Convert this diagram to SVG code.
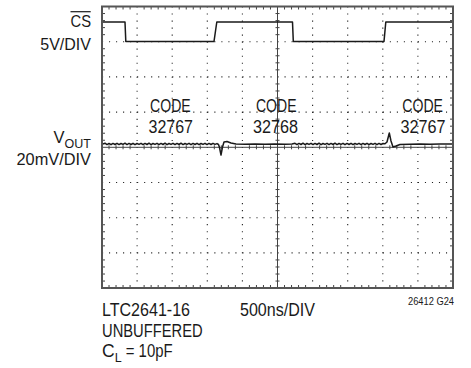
<svg xmlns="http://www.w3.org/2000/svg" width="471" height="368" viewBox="0 0 471 368">
<style>
text{font-family:"Liberation Sans",Arial,sans-serif;fill:#1a1a1a;}
.lbl{font-size:16.5px;}
.big{font-size:17.5px;}
.sm{font-size:10px;}
.grid{stroke:#222;stroke-width:1.1;stroke-dasharray:1.1 5.92;fill:none;}
.tick{stroke:#444;stroke-width:1;fill:none;}
.frame{stroke:#555;stroke-width:2;fill:none;}
.trace{stroke:#1a1a1a;stroke-width:1.5;fill:none;stroke-linejoin:round;}
</style>
<rect width="471" height="368" fill="#fff"/>
<g id="grid">
<path class="grid" d="M137.1 6.5V288M172.2 6.5V288M207.3 6.5V288M242.4 6.5V288M312.6 6.5V288M347.7 6.5V288M382.8 6.5V288M417.9 6.5V288"/>
<path class="grid" d="M102 41.7H453M102 76.9H453M102 112.1H453M102 182.5H453M102 217.7H453M102 252.9H453"/>
<path class="tick" d="M277.5 6.5V288M102 147.3H453"/>
<path class="tick" id="ticks-top" d="M109.02 6.5v3M116.04 6.5v3M123.06 6.5v3M130.08 6.5v3M144.12 6.5v3M151.14 6.5v3M158.16 6.5v3M165.18 6.5v3M179.22 6.5v3M186.24 6.5v3M193.26 6.5v3M200.28 6.5v3M214.32 6.5v3M221.34 6.5v3M228.36 6.5v3M235.38 6.5v3M249.42 6.5v3M256.44 6.5v3M263.46 6.5v3M270.48 6.5v3M284.52 6.5v3M291.54 6.5v3M298.56 6.5v3M305.58 6.5v3M319.62 6.5v3M326.64 6.5v3M333.66 6.5v3M340.68 6.5v3M354.72 6.5v3M361.74 6.5v3M368.76 6.5v3M375.78 6.5v3M389.82 6.5v3M396.84 6.5v3M403.86 6.5v3M410.88 6.5v3M424.92 6.5v3M431.94 6.5v3M438.96 6.5v3M445.98 6.5v3"/>
<path class="tick" d="M109.02 288v-3M116.04 288v-3M123.06 288v-3M130.08 288v-3M144.12 288v-3M151.14 288v-3M158.16 288v-3M165.18 288v-3M179.22 288v-3M186.24 288v-3M193.26 288v-3M200.28 288v-3M214.32 288v-3M221.34 288v-3M228.36 288v-3M235.38 288v-3M249.42 288v-3M256.44 288v-3M263.46 288v-3M270.48 288v-3M284.52 288v-3M291.54 288v-3M298.56 288v-3M305.58 288v-3M319.62 288v-3M326.64 288v-3M333.66 288v-3M340.68 288v-3M354.72 288v-3M361.74 288v-3M368.76 288v-3M375.78 288v-3M389.82 288v-3M396.84 288v-3M403.86 288v-3M410.88 288v-3M424.92 288v-3M431.94 288v-3M438.96 288v-3M445.98 288v-3"/>
<path class="tick" d="M109.02 145.3v4M116.04 145.3v4M123.06 145.3v4M130.08 145.3v4M144.12 145.3v4M151.14 145.3v4M158.16 145.3v4M165.18 145.3v4M179.22 145.3v4M186.24 145.3v4M193.26 145.3v4M200.28 145.3v4M214.32 145.3v4M221.34 145.3v4M228.36 145.3v4M235.38 145.3v4M249.42 145.3v4M256.44 145.3v4M263.46 145.3v4M270.48 145.3v4M284.52 145.3v4M291.54 145.3v4M298.56 145.3v4M305.58 145.3v4M319.62 145.3v4M326.64 145.3v4M333.66 145.3v4M340.68 145.3v4M354.72 145.3v4M361.74 145.3v4M368.76 145.3v4M375.78 145.3v4M389.82 145.3v4M396.84 145.3v4M403.86 145.3v4M410.88 145.3v4M424.92 145.3v4M431.94 145.3v4M438.96 145.3v4M445.98 145.3v4"/>
<path class="tick" d="M102 13.54h3M102 20.58h3M102 27.62h3M102 34.66h3M102 48.74h3M102 55.78h3M102 62.82h3M102 69.86h3M102 83.94h3M102 90.98h3M102 98.02h3M102 105.06h3M102 119.14h3M102 126.18h3M102 133.22h3M102 140.26h3M102 154.34h3M102 161.38h3M102 168.42h3M102 175.46h3M102 189.54h3M102 196.58h3M102 203.62h3M102 210.66h3M102 224.74h3M102 231.78h3M102 238.82h3M102 245.86h3M102 259.94h3M102 266.98h3M102 274.02h3M102 281.06h3"/>
<path class="tick" d="M453 13.54h-3M453 20.58h-3M453 27.62h-3M453 34.66h-3M453 48.74h-3M453 55.78h-3M453 62.82h-3M453 69.86h-3M453 83.94h-3M453 90.98h-3M453 98.02h-3M453 105.06h-3M453 119.14h-3M453 126.18h-3M453 133.22h-3M453 140.26h-3M453 154.34h-3M453 161.38h-3M453 168.42h-3M453 175.46h-3M453 189.54h-3M453 196.58h-3M453 203.62h-3M453 210.66h-3M453 224.74h-3M453 231.78h-3M453 238.82h-3M453 245.86h-3M453 259.94h-3M453 266.98h-3M453 274.02h-3M453 281.06h-3"/>
<path class="tick" d="M275.5 13.54h4M275.5 20.58h4M275.5 27.62h4M275.5 34.66h4M275.5 48.74h4M275.5 55.78h4M275.5 62.82h4M275.5 69.86h4M275.5 83.94h4M275.5 90.98h4M275.5 98.02h4M275.5 105.06h4M275.5 119.14h4M275.5 126.18h4M275.5 133.22h4M275.5 140.26h4M275.5 154.34h4M275.5 161.38h4M275.5 168.42h4M275.5 175.46h4M275.5 189.54h4M275.5 196.58h4M275.5 203.62h4M275.5 210.66h4M275.5 224.74h4M275.5 231.78h4M275.5 238.82h4M275.5 245.86h4M275.5 259.94h4M275.5 266.98h4M275.5 274.02h4M275.5 281.06h4"/>
</g>
<g id="frame"><rect class="frame" x="102" y="6.5" width="351" height="281.5"/></g>
<g id="cs-trace">
<polyline class="trace" points="103,22 125,22 125.8,41.5 214,41.5 216.8,22 292.5,22 293.3,41.5 384,41.5 385.8,22 452,22"/>
</g>
<g id="vout-trace">
<polyline class="trace" points="103,144 105,143.2 107,144.6 109,143.5 111,144.7 113,143.4 115,144.5 117,143.3 119,144.6 121,143.5 123,144.4 125,143.2 127,144.6 129,143.4 131,144.5 133,143.3 135,144.7 137,143.5 139,144.4 141,143.3 143,144.6 145,143.4 147,144.5 149,143.2 151,144.6 153,143.5 155,144.4 157,143.3 159,144.6 161,143.4 163,144.5 165,143.2 167,144.7 169,143.5 171,144.4 173,143.3 175,144.6 177,143.4 179,144.5 181,143.2 183,144.6 185,143.5 187,144.4 189,143.3 191,144.7 193,143.4 195,144.5 197,143.3 199,144.6 201,143.5 203,144.4 205,143.3 207,144.6 209,143.4 211,144.5 213,143.3 215,144.4 217,143.6 218.5,144.5 219.5,147.5 221,155 222.5,147 224,142 227,141.5 231,143 236,144 245,144.2 255,144 265,144.3 275,144 285,144.3 292,144 295,143.3 297,144.6 299,143.4 301,144.5 303,143.2 305,144.6 307,143.5 309,144.4 311,143.3 313,144.6 315,143.4 317,144.5 319,143.2 321,144.7 323,143.5 325,144.4 327,143.3 329,144.6 331,143.4 333,144.5 335,143.2 337,144.6 339,143.5 341,144.4 343,143.3 345,144.7 347,143.4 349,144.5 351,143.3 353,144.6 355,143.5 357,144.4 359,143.3 361,144.6 363,143.4 365,144.5 367,143.3 369,144.6 371,143.5 373,144.4 375,143.3 377,144.6 379,143.4 381,144.5 383,143.5 385,143.8 387,142 389.3,133 391,141 393,147 396,146 400,144.5 410,144.2 420,144 430,144.2 440,144 452,144.1"/>
</g>
<g id="label-cs">
<text class="lbl" x="91" y="27" text-anchor="end" textLength="20.5" lengthAdjust="spacingAndGlyphs">CS</text>
<line x1="70.5" y1="11.7" x2="90.7" y2="11.7" stroke="#1a1a1a" stroke-width="1.2"/>
<text class="lbl" x="91" y="50" text-anchor="end" textLength="50.7" lengthAdjust="spacingAndGlyphs">5V/DIV</text>
</g>
<g id="label-vout">
<text class="lbl" x="91" y="143" text-anchor="end">V<tspan font-size="12.5" dy="4.5">OUT</tspan></text>
<text class="lbl" x="91" y="165" text-anchor="end" textLength="74.5" lengthAdjust="spacingAndGlyphs">20mV/DIV</text>
</g>
<g id="code1">
<text class="big" x="150" y="111.7" textLength="40.7" lengthAdjust="spacingAndGlyphs">CODE</text>
<text class="big" x="148.5" y="132.7" textLength="44.5" lengthAdjust="spacingAndGlyphs">32767</text>
</g>
<g id="code2">
<text class="big" x="256" y="111.7" textLength="40.5" lengthAdjust="spacingAndGlyphs">CODE</text>
<text class="big" x="253" y="132.7" textLength="45" lengthAdjust="spacingAndGlyphs">32768</text>
</g>
<g id="code3">
<text class="big" x="402.3" y="111.7" textLength="40.7" lengthAdjust="spacingAndGlyphs">CODE</text>
<text class="big" x="400.5" y="132.7" textLength="45" lengthAdjust="spacingAndGlyphs">32767</text>
</g>
<g id="notes">
<text class="big" x="102" y="316" textLength="88" lengthAdjust="spacingAndGlyphs">LTC2641-16</text>
<text class="big" x="102" y="336.7" textLength="100.7" lengthAdjust="spacingAndGlyphs">UNBUFFERED</text>
<text class="big" x="102" y="357.3">C<tspan font-size="12.5" dy="4.5">L</tspan><tspan dy="-4.5" textLength="51" lengthAdjust="spacingAndGlyphs"> = 10pF</tspan></text>
<text class="big" x="240" y="316" textLength="75" lengthAdjust="spacingAndGlyphs">500ns/DIV</text>
<text class="sm" x="454" y="305" text-anchor="end" textLength="46" lengthAdjust="spacingAndGlyphs">26412 G24</text>
</g>
</svg>
